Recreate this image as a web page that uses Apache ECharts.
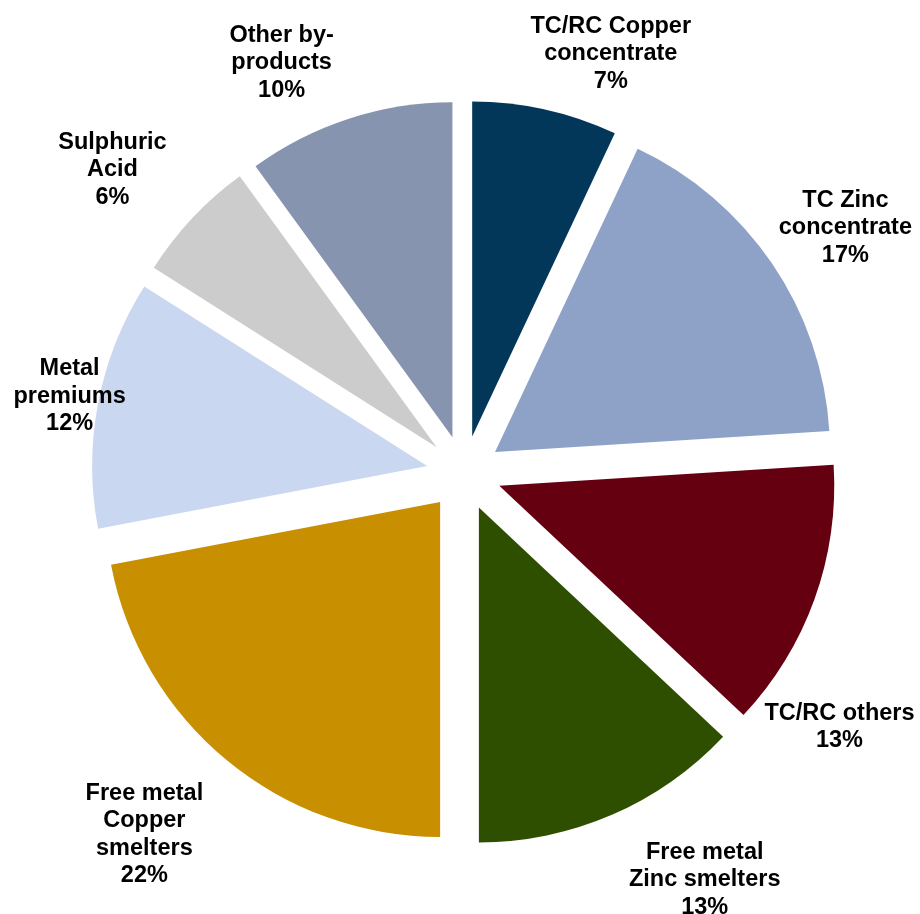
<!DOCTYPE html>
<html>
<head>
<meta charset="utf-8">
<script src="https://cdn.jsdelivr.net/npm/echarts@6/dist/echarts.min.js"></script>
<style>
  html, body { margin: 0; padding: 0; background: #ffffff; }
  #chart { width: 920px; height: 914px; }
</style>
</head>
<body>
<div id="chart"></div>
<script>
// ---- data ----
var categories = [
  'TC/RC Copper\nconcentrate',
  'TC Zinc\nconcentrate',
  'TC/RC others',
  'Free metal\nZinc smelters',
  'Free metal\nCopper\nsmelters',
  'Metal\npremiums',
  'Sulphuric\nAcid',
  'Other by-\nproducts'
];
var shares = [7, 17, 13, 13, 22, 12, 6, 10];
var colors = ['#02375A', '#8EA1C6', '#650011', '#2F4F00', '#C88F00', '#C9D7F0', '#CCCCCC', '#8794AF'];

// label nudges (style only), relative to the library-computed label anchor
var labelNudge = [
  [47, 27], [3, 12], [-55, 99], [59, -13], [-28, 9], [55, 9], [-18, 10], [-41, 25]
];

var chart = echarts.init(document.getElementById('chart'), null, { renderer: 'canvas' });

var seriesData = categories.map(function (name, i) {
  return {
    name: name,
    value: shares[i],
    selected: true,
    itemStyle: { color: colors[i] }
  };
});

chart.setOption({
  animation: false,
  backgroundColor: '#ffffff',
  series: [{
    type: 'pie',
    center: [464, 473],
    radius: 335,
    startAngle: 90,
    clockwise: true,
    selectedMode: 'multiple',
    selectedOffset: 37.5,
    avoidLabelOverlap: false,
    emphasis: { disabled: true },
    itemStyle: { borderWidth: 0 },
    label: {
      show: true,
      position: 'outside',
      alignTo: 'none',
      bleedMargin: -2000,
      distanceToLabelLine: 0,
      overflow: 'none',
      formatter: function (p) { return p.name + '\n' + p.value + '%'; },
      fontFamily: '"Liberation Sans", Arial, sans-serif',
      fontWeight: 'bold',
      fontSize: 23.5,
      lineHeight: 27.5,
      color: '#000000'
    },
    labelLine: { show: false, length: 85, length2: 0 },
    labelLayout: function (p) {
      var n = labelNudge[p.dataIndex] || [0, 0];
      return { align: 'center', verticalAlign: 'middle', dx: n[0], dy: n[1] };
    },
    data: seriesData
  }]
});
</script>
</body>
</html>
